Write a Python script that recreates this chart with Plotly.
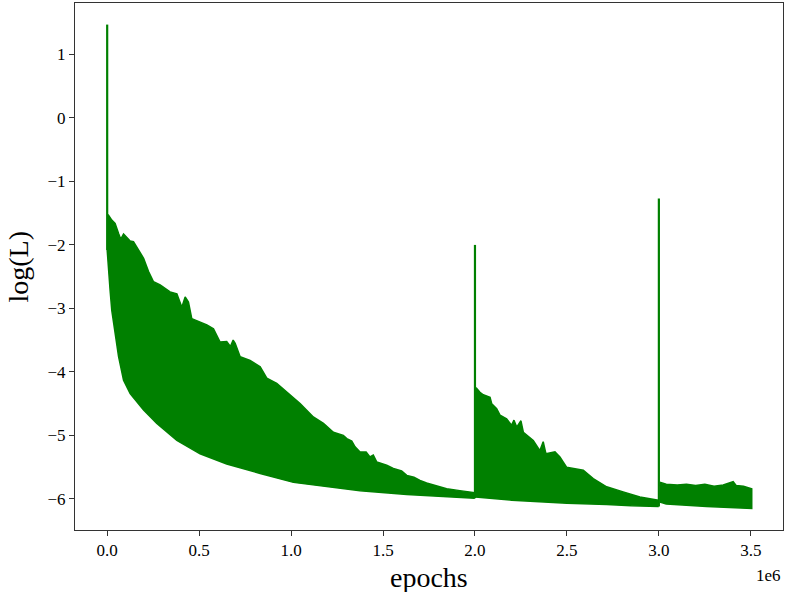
import plotly.graph_objects as go

# ---- data (x in units of 1e6 epochs, y = log(L)) ----
# segment 1: 0 .. 2.0e6
upper1_x = [0.000, 0.007, 0.025, 0.043, 0.062, 0.074, 0.089, 0.125, 0.143, 0.170, 0.198, 0.225,
            0.252, 0.288, 0.342, 0.379, 0.406, 0.424, 0.442, 0.460, 0.505, 0.542, 0.578, 0.614,
            0.650, 0.670, 0.685, 0.696, 0.723, 0.777, 0.832, 0.868, 0.922, 0.977, 1.013, 1.049,
            1.121, 1.176, 1.230,
            1.266, 1.284, 1.303, 1.330, 1.348, 1.375, 1.408, 1.429, 1.447, 1.466, 1.520, 1.556,
            1.601, 1.629, 1.668, 1.701, 1.737, 1.792, 1.846, 1.918, 1.982, 1.995]
upper1_y = [-1.55, -1.53, -1.61, -1.66, -1.82, -1.91, -1.83, -1.94, -1.95, -2.08, -2.21, -2.42,
            -2.58, -2.63, -2.74, -2.77, -2.98, -2.82, -2.90, -3.16, -3.21, -3.26, -3.32, -3.53,
            -3.52, -3.60, -3.50, -3.55, -3.76, -3.82, -3.92, -4.10, -4.18, -4.32, -4.42, -4.50,
            -4.71, -4.81, -4.95,
            -4.98, -5.00, -5.05, -5.09, -5.18, -5.26, -5.26, -5.34, -5.31, -5.42, -5.47, -5.52,
            -5.56, -5.63, -5.66, -5.71, -5.75, -5.79, -5.84, -5.87, -5.89, -5.90]
lower1_x = [0.000, 0.007, 0.016, 0.025, 0.034, 0.062, 0.089, 0.125, 0.198, 0.270, 0.379, 0.505,
            0.650, 0.832, 1.013, 1.194, 1.375, 1.629, 1.810, 1.995]
lower1_y = [-2.08, -2.35, -2.72, -3.03, -3.24, -3.76, -4.13, -4.34, -4.60, -4.81, -5.08, -5.29,
            -5.45, -5.60, -5.74, -5.81, -5.87, -5.93, -5.96, -5.99]

# segment 2: 2.0e6 .. 3.0e6
upper2_x = [2.002, 2.009, 2.027, 2.045, 2.082, 2.091, 2.118, 2.136, 2.172, 2.199, 2.212, 2.227,
            2.250, 2.263, 2.317, 2.353, 2.371, 2.386, 2.435, 2.462, 2.498, 2.534, 2.589, 2.643,
            2.716, 2.806, 2.897, 2.995]
upper2_y = [-4.30, -4.26, -4.32, -4.36, -4.40, -4.50, -4.58, -4.68, -4.74, -4.84, -4.76, -4.87,
            -4.77, -4.95, -5.08, -5.24, -5.10, -5.29, -5.26, -5.34, -5.50, -5.52, -5.55, -5.68,
            -5.81, -5.89, -5.97, -6.02]
lower2_x = [2.002, 2.200, 2.353, 2.500, 2.716, 2.850, 2.995]
lower2_y = [-5.97, -6.02, -6.05, -6.07, -6.09, -6.11, -6.12]

# segment 3: 3.0e6 .. 3.5e6
upper3_x = [3.005, 3.009, 3.040, 3.100, 3.150, 3.200, 3.250, 3.300, 3.350, 3.404, 3.420, 3.460, 3.505]
upper3_y = [-5.80, -5.74, -5.77, -5.78, -5.77, -5.79, -5.77, -5.80, -5.78, -5.73, -5.79, -5.80, -5.84]
lower3_x = [3.005, 3.040, 3.076, 3.259, 3.505]
lower3_y = [-6.05, -6.08, -6.09, -6.12, -6.15]

# restart spikes
spike_x = [0.0, 2.0, 3.0]
spike_top = [1.47, -2.00, -1.27]
spike_base = [-2.08, -5.99, -6.12]

x_ticks = [0.0, 0.5, 1.0, 1.5, 2.0, 2.5, 3.0, 3.5]
y_ticks = [-6, -5, -4, -3, -2, -1, 0, 1]

GREEN = "#008000"
FONT = "Liberation Serif"

fig = go.Figure()
segments = [(upper1_x, upper1_y, lower1_x, lower1_y),
            (upper2_x, upper2_y, lower2_x, lower2_y),
            (upper3_x, upper3_y, lower3_x, lower3_y)]
for ux, uy, lx, ly in segments:
    fig.add_trace(go.Scatter(
        x=list(ux) + list(lx)[::-1],
        y=list(uy) + list(ly)[::-1],
        mode="lines", fill="toself", fillcolor=GREEN,
        line=dict(color=GREEN, width=1.5), hoverinfo="skip", showlegend=False))

for sx, st, sb in zip(spike_x, spike_top, spike_base):
    fig.add_trace(go.Scatter(x=[sx, sx], y=[sb, st], mode="lines",
                             line=dict(color=GREEN, width=2.2), showlegend=False))

axis_common = dict(showline=True, mirror=True, linecolor="#333333", linewidth=1,
                   ticks="outside", ticklen=5, tickwidth=1, tickcolor="#333333",
                   showgrid=False, zeroline=False,
                   tickfont=dict(family=FONT, size=17, color="#000000"))

fig.update_layout(
    width=787, height=592, autosize=False,
    margin=dict(l=75, r=4, t=3, b=62),
    paper_bgcolor="white", plot_bgcolor="white",
    xaxis=dict(range=[-0.175, 3.675], tickvals=x_ticks,
               ticktext=[f"{v:.1f}" for v in x_ticks], **axis_common),
    yaxis=dict(range=[-6.49, 1.81], tickvals=y_ticks,
               ticktext=[f"\u2212{abs(v)}" if v < 0 else str(v) for v in y_ticks], **axis_common),
    annotations=[
        dict(text="epochs", xref="paper", yref="paper", x=0.5, y=(530 - 577) / 527,
             xanchor="center", yanchor="middle", showarrow=False,
             font=dict(family=FONT, size=28, color="#000000")),
        dict(text="1e6", xref="paper", yref="paper", x=1.0, y=(530 - 575) / 527,
             xanchor="right", yanchor="middle", showarrow=False,
             font=dict(family=FONT, size=17, color="#000000")),
        dict(text="log(L)", xref="paper", yref="paper", x=(18 - 75) / 708, y=0.5,
             xanchor="center", yanchor="middle", textangle=-90, showarrow=False,
             font=dict(family=FONT, size=28, color="#000000")),
    ],
)

fig.write_html("out.html", config={"displayModeBar": False},
               post_script="document.body.style.margin='0';document.body.style.overflow='hidden';")
